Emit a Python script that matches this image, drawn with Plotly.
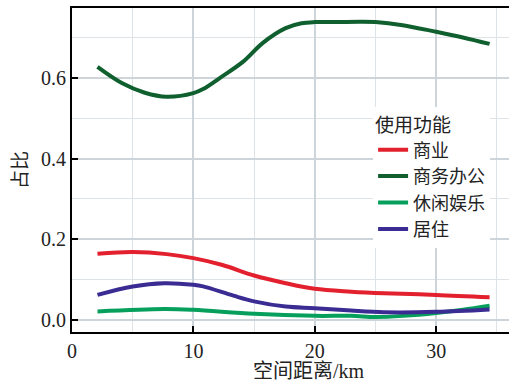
import plotly.graph_objects as go

# Share of each land-use function against distance from the centre (km)
dist_business = [2.1, 4.1, 6.0, 7.8, 10.0, 10.8, 12.2, 14.1, 15.7, 17.6, 18.9, 20.0, 21.6, 23.8, 25.0, 27.1, 30.0, 32.2, 34.4]
share_business = [0.627, 0.587, 0.563, 0.553, 0.562, 0.572, 0.600, 0.640, 0.686, 0.723, 0.735, 0.738, 0.738, 0.739, 0.738, 0.731, 0.714, 0.700, 0.684]

dist_commerce = [2.1, 5.0, 7.8, 10.0, 12.4, 15.0, 17.6, 20.0, 23.0, 25.7, 30.0, 34.4]
share_commerce = [0.164, 0.168, 0.163, 0.153, 0.136, 0.110, 0.091, 0.077, 0.070, 0.066, 0.062, 0.056]

dist_leisure = [2.1, 7.6, 10.0, 15.0, 20.0, 23.0, 25.0, 27.3, 30.0, 32.2, 34.4]
share_leisure = [0.021, 0.027, 0.025, 0.015, 0.010, 0.010, 0.007, 0.010, 0.017, 0.025, 0.035]

dist_housing = [2.1, 5.0, 7.6, 10.0, 10.8, 13.3, 15.0, 17.6, 20.0, 23.0, 25.7, 30.0, 34.4]
share_housing = [0.062, 0.083, 0.091, 0.087, 0.083, 0.060, 0.046, 0.033, 0.029, 0.023, 0.019, 0.020, 0.026]

series = [
    ("商业", dist_commerce, share_commerce, "#e3202d"),
    ("商务办公", dist_business, share_business, "#10602f"),
    ("休闲娱乐", dist_leisure, share_leisure, "#06a05c"),
    ("居住", dist_housing, share_housing, "#3b2c93"),
]

x_ticks = [0, 10, 20, 30]
y_ticks = [0.0, 0.2, 0.4, 0.6]
y_tick_text = ["0.0", "0.2", "0.4", "0.6"]

serif = "Liberation Serif"
cjk = "Liberation Serif, Noto Sans CJK SC"
ink = "#222"

fig = go.Figure()
for name, xs, ys, color in series:
    fig.add_trace(go.Scatter(
        x=xs, y=ys, name=name, mode="lines",
        line=dict(color=color, width=4, shape="spline", smoothing=1.0),
    ))

fig.update_layout(
    width=509, height=385,
    margin=dict(l=72, r=0, t=8, b=53),
    paper_bgcolor="white", plot_bgcolor="white",
    font=dict(family=cjk, size=18, color=ink),
    legend=dict(
        title=dict(text="使用功能", font=dict(size=19, family=cjk, color=ink)),
        font=dict(size=18, family=cjk, color=ink),
        x=0.689, xanchor="left", y=0.695, yanchor="top",
        bgcolor="white", borderwidth=0, tracegroupgap=0,
    ),
    annotations=[dict(
        text="空间距离/km", xref="paper", yref="paper",
        x=0.542, y=0, yshift=-39, xanchor="center", yanchor="middle",
        showarrow=False, font=dict(size=20, family=cjk, color=ink),
    )],
)

fig.update_xaxes(
    range=[0, 36], tickvals=x_ticks, ticks="inside", ticklen=6, tickwidth=2,
    tickcolor="black", showline=True, linewidth=2, linecolor="black", mirror=True,
    showgrid=True, gridcolor="#cdd5db", gridwidth=1.5, zeroline=False,
    minor=dict(dtick=5, tick0=0, showgrid=True, gridcolor="#dde3e7", gridwidth=1),
    tickfont=dict(size=20, family=serif, color=ink),
)
fig.update_yaxes(
    range=[-0.03, 0.773], tickvals=y_ticks, ticktext=y_tick_text,
    ticks="inside", ticklen=6, tickwidth=2, tickcolor="black",
    showline=True, linewidth=2, linecolor="black", mirror=False,
    showgrid=True, gridcolor="#cdd5db", gridwidth=1.5, zeroline=False,
    minor=dict(dtick=0.1, tick0=0, showgrid=True, gridcolor="#dde3e7", gridwidth=1),
    tickfont=dict(size=20, family=serif, color=ink),
    title=dict(text="占比", font=dict(size=19, family=cjk, color=ink), standoff=8),
)

fig.write_html("out.html")
